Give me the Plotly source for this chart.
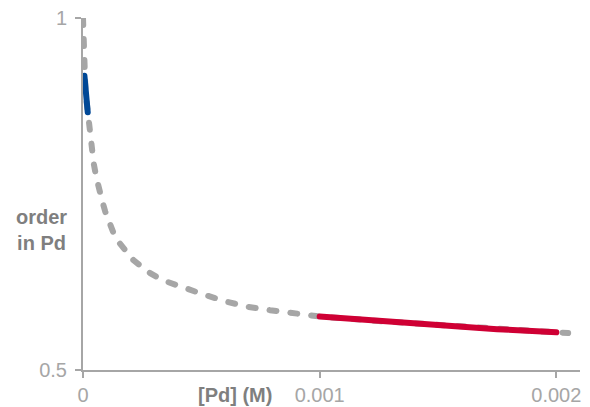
import plotly.graph_objects as go

# ---- data ----
gray_x = [0, 0.000003, 0.000006, 0.00001, 0.000015, 0.00002, 0.000024, 0.00003, 0.000038,
          0.000045, 0.000056, 0.000065, 0.00008, 0.000094, 0.000108, 0.000129, 0.00015,
          0.000186, 0.000213, 0.000256, 0.000284, 0.000333, 0.000376, 0.000424, 0.000516,
          0.000608, 0.000692, 0.00079, 0.000875, 0.001, 0.00125, 0.0015, 0.00175, 0.002, 0.00205]
gray_y = [1.0, 0.955, 0.918, 0.900, 0.882, 0.866, 0.849, 0.827, 0.808,
          0.794, 0.774, 0.760, 0.7415, 0.725, 0.711, 0.6945, 0.682,
          0.666, 0.656, 0.6445, 0.6375, 0.628, 0.623, 0.616, 0.6065,
          0.597, 0.590, 0.585, 0.5805, 0.576, 0.5695, 0.5635, 0.558, 0.5535, 0.5525]

blue_x = [0.000006, 0.00001, 0.000015, 0.00002]
blue_y = [0.918, 0.900, 0.882, 0.866]

red_x = [0.001, 0.00125, 0.0015, 0.00175, 0.002]
red_y = [0.576, 0.5695, 0.5635, 0.558, 0.5535]

x_tickvals = [0, 0.001, 0.002]
x_ticktext = ["0", "0.001", "0.002"]
y_tickvals = [0.5, 1]
y_ticktext = ["0.5", "1"]

x_title = "[Pd] (M)"
y_title = "order<br>in Pd"

FONT = "Arial, 'Liberation Sans', sans-serif"
AXIS_GRAY = "#a6a6a6"
TITLE_GRAY = "#7f7f7f"

fig = go.Figure()
fig.add_trace(go.Scatter(x=gray_x, y=gray_y, mode="lines",
                         line=dict(color="#a6a6a6", width=6, dash="7px,14px"),
                         hoverinfo="skip"))
fig.add_trace(go.Scatter(x=blue_x, y=blue_y, mode="lines",
                         line=dict(color="#004896", width=6), hoverinfo="skip"))
fig.add_trace(go.Scatter(x=red_x, y=red_y, mode="lines",
                         line=dict(color="#cf0034", width=6), hoverinfo="skip"))

fig.update_layout(
    width=590, height=407,
    margin=dict(l=83, r=10, t=18, b=37),
    paper_bgcolor="white", plot_bgcolor="white",
    showlegend=False,
    font=dict(family=FONT, size=20, color=AXIS_GRAY),
    xaxis=dict(range=[0, 0.0021], tickvals=x_tickvals, ticktext=x_ticktext,
               automargin=False,
               showgrid=False, zeroline=False, showline=True, linecolor=AXIS_GRAY,
               linewidth=2, ticks="outside", ticklen=6, tickwidth=2, tickcolor=AXIS_GRAY,
               tickfont=dict(family=FONT, size=20, color=AXIS_GRAY)),
    yaxis=dict(range=[0.5, 1], tickvals=y_tickvals, ticktext=y_ticktext,
               automargin=False, ticklabelstandoff=4,
               showgrid=False, zeroline=False, showline=True, linecolor=AXIS_GRAY,
               linewidth=2, ticks="outside", ticklen=6, tickwidth=2, tickcolor=AXIS_GRAY,
               tickfont=dict(family=FONT, size=20, color=AXIS_GRAY)),
    annotations=[
        dict(text="<b>" + x_title + "</b>", xref="x", yref="paper", x=0.000643, y=0,
             yshift=-25, xanchor="center", yanchor="middle", showarrow=False,
             font=dict(family=FONT, size=20, color=TITLE_GRAY)),
        dict(text="<b>" + y_title + "</b>", xref="paper", yref="paper", x=-0.0825, y=0.398,
             xanchor="center", yanchor="middle", showarrow=False, align="center",
             font=dict(family=FONT, size=20, color=TITLE_GRAY)),
    ],
)

post = ("document.body.style.margin='0';"
        "document.body.style.overflow='hidden';"
        "document.querySelectorAll('.scatterlayer .js-line').forEach(function(p){"
        "p.style.strokeLinecap='round';});")
fig.write_html("out.html", post_script=post, config={"displayModeBar": False})
